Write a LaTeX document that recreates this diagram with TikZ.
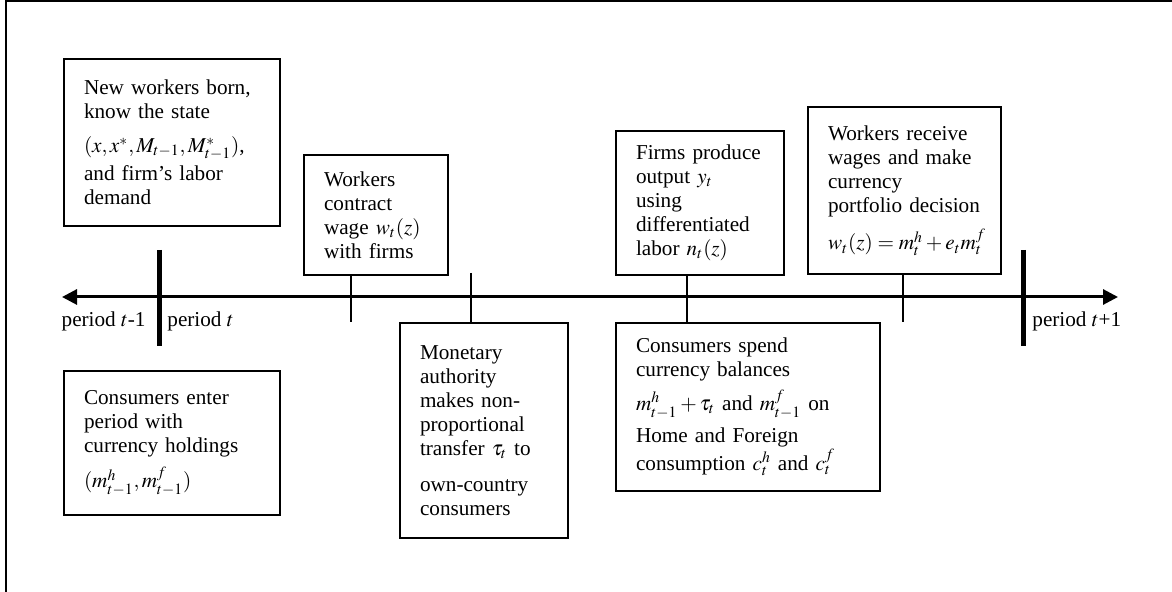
\documentclass[tikz,border=0pt]{standalone}
\usepackage{mathptmx}
\usepackage{fontspec}
\setmainfont{Liberation Serif}
\usetikzlibrary{arrows.meta}
\usetikzlibrary{positioning}

\begin{document}
\begin{tikzpicture}[x=0.5pt,y=-0.5pt,
    font=\fontsize{10.6}{12}\selectfont,
    event/.style 2 args={draw, line width=1pt, anchor=north west, align=left,
      inner xsep=10pt, inner ysep=4pt, text width=#1, minimum height=#2},
    timeline/.style={line width=1.5pt, {Triangle[length=7.5pt,width=7.5pt]}-{Triangle[length=7.5pt,width=7.5pt]}},
    mark line/.style={line width=0.75pt},
    period line/.style={line width=2.5pt},
    frame/.style={line width=0.8pt}]
  \useasboundingbox (0,0) rectangle (1172,592);
  \coordinate (fa) at (6,1);
  \coordinate (fb) at (1172,1);
  \coordinate (fc) at (6,592);
  \draw[frame] (fc) -- (fa) -- (fb);

  \node[event={88pt}{83.5pt}] (born) at (63,58)
    {New workers born,\\ know the state\\[5pt] \mbox{$(x,x^{*},M_{t-1},M^{*}_{t-1})$},\\[2pt] and firm’s labor\\ demand};
  \node[event={52pt}{60pt}] (contract) at (303,154)
    {Workers\\ contract\\ wage $w_t(z)$\\ with firms};
  \node[event={64pt}{72pt}] (firms) at (615,130)
    {Firms produce\\ output $y_t$\\ using\\ differentiated\\ labor $n_t(z)$};
  \node[event={76.5pt}{83.5pt}] (receive) at (807,106)
    {Workers receive\\ wages and make\\ currency\\ portfolio decision\\[5pt] \mbox{$w_t(z)=m^h_t+e_t m^f_t$}};
  \node[event={88pt}{72pt}] (enter) at (63,370)
    {Consumers enter\\ period with\\ currency holdings\\[4pt] \mbox{$(m^h_{t-1},m^f_{t-1})$}};
  \node[event={64pt}{107.5pt}] (monetary) at (399,322)
    {Monetary\\ authority\\ makes non-\\ proportional\\ transfer $\tau_t$ to\\[6pt] own-country\\ consumers};
  \node[event={112pt}{84pt}] (spend) at (615,322)
    {Consumers spend\\ currency balances\\[3pt] \mbox{$m^h_{t-1}+\tau_t$ and $m^f_{t-1}$ on}\\[4pt] Home and Foreign\\ \mbox{consumption $c^h_t$ and $c^f_t$}};

  \coordinate (tl) at (62,297);
  \coordinate (tr) at (1118,297);
  \draw[timeline] (tl) -- (tr);

  \coordinate (p0) at (159,250);
  \coordinate (p0b) at (159,346);
  \coordinate (p1) at (1023,250);
  \coordinate (p1b) at (1023,346);
  \draw[period line] (p0) -- (p0b);
  \draw[period line] (p1) -- (p1b);

  \coordinate (m1) at (351,322);
  \coordinate (m2) at (471,273);
  \coordinate (m3) at (687,297);
  \coordinate (m4) at (903,322);
  \draw[mark line] (m1 |- contract.south) -- (m1);
  \draw[mark line] (m2) -- (m2 |- monetary.north);
  \draw[mark line] (m3 |- firms.south) -- (m3 |- spend.north);
  \draw[mark line] (m4 |- receive.south) -- (m4);

  \node[anchor=east, inner sep=0pt] (prev) at (146,321) {period $t$-1};
  \node[anchor=west, inner sep=0pt] (cur) at (167,321) {period $t$};
  \node[anchor=west, inner sep=0pt] (next) at (1032,321) {period $t$+1};
\end{tikzpicture}
\end{document}
